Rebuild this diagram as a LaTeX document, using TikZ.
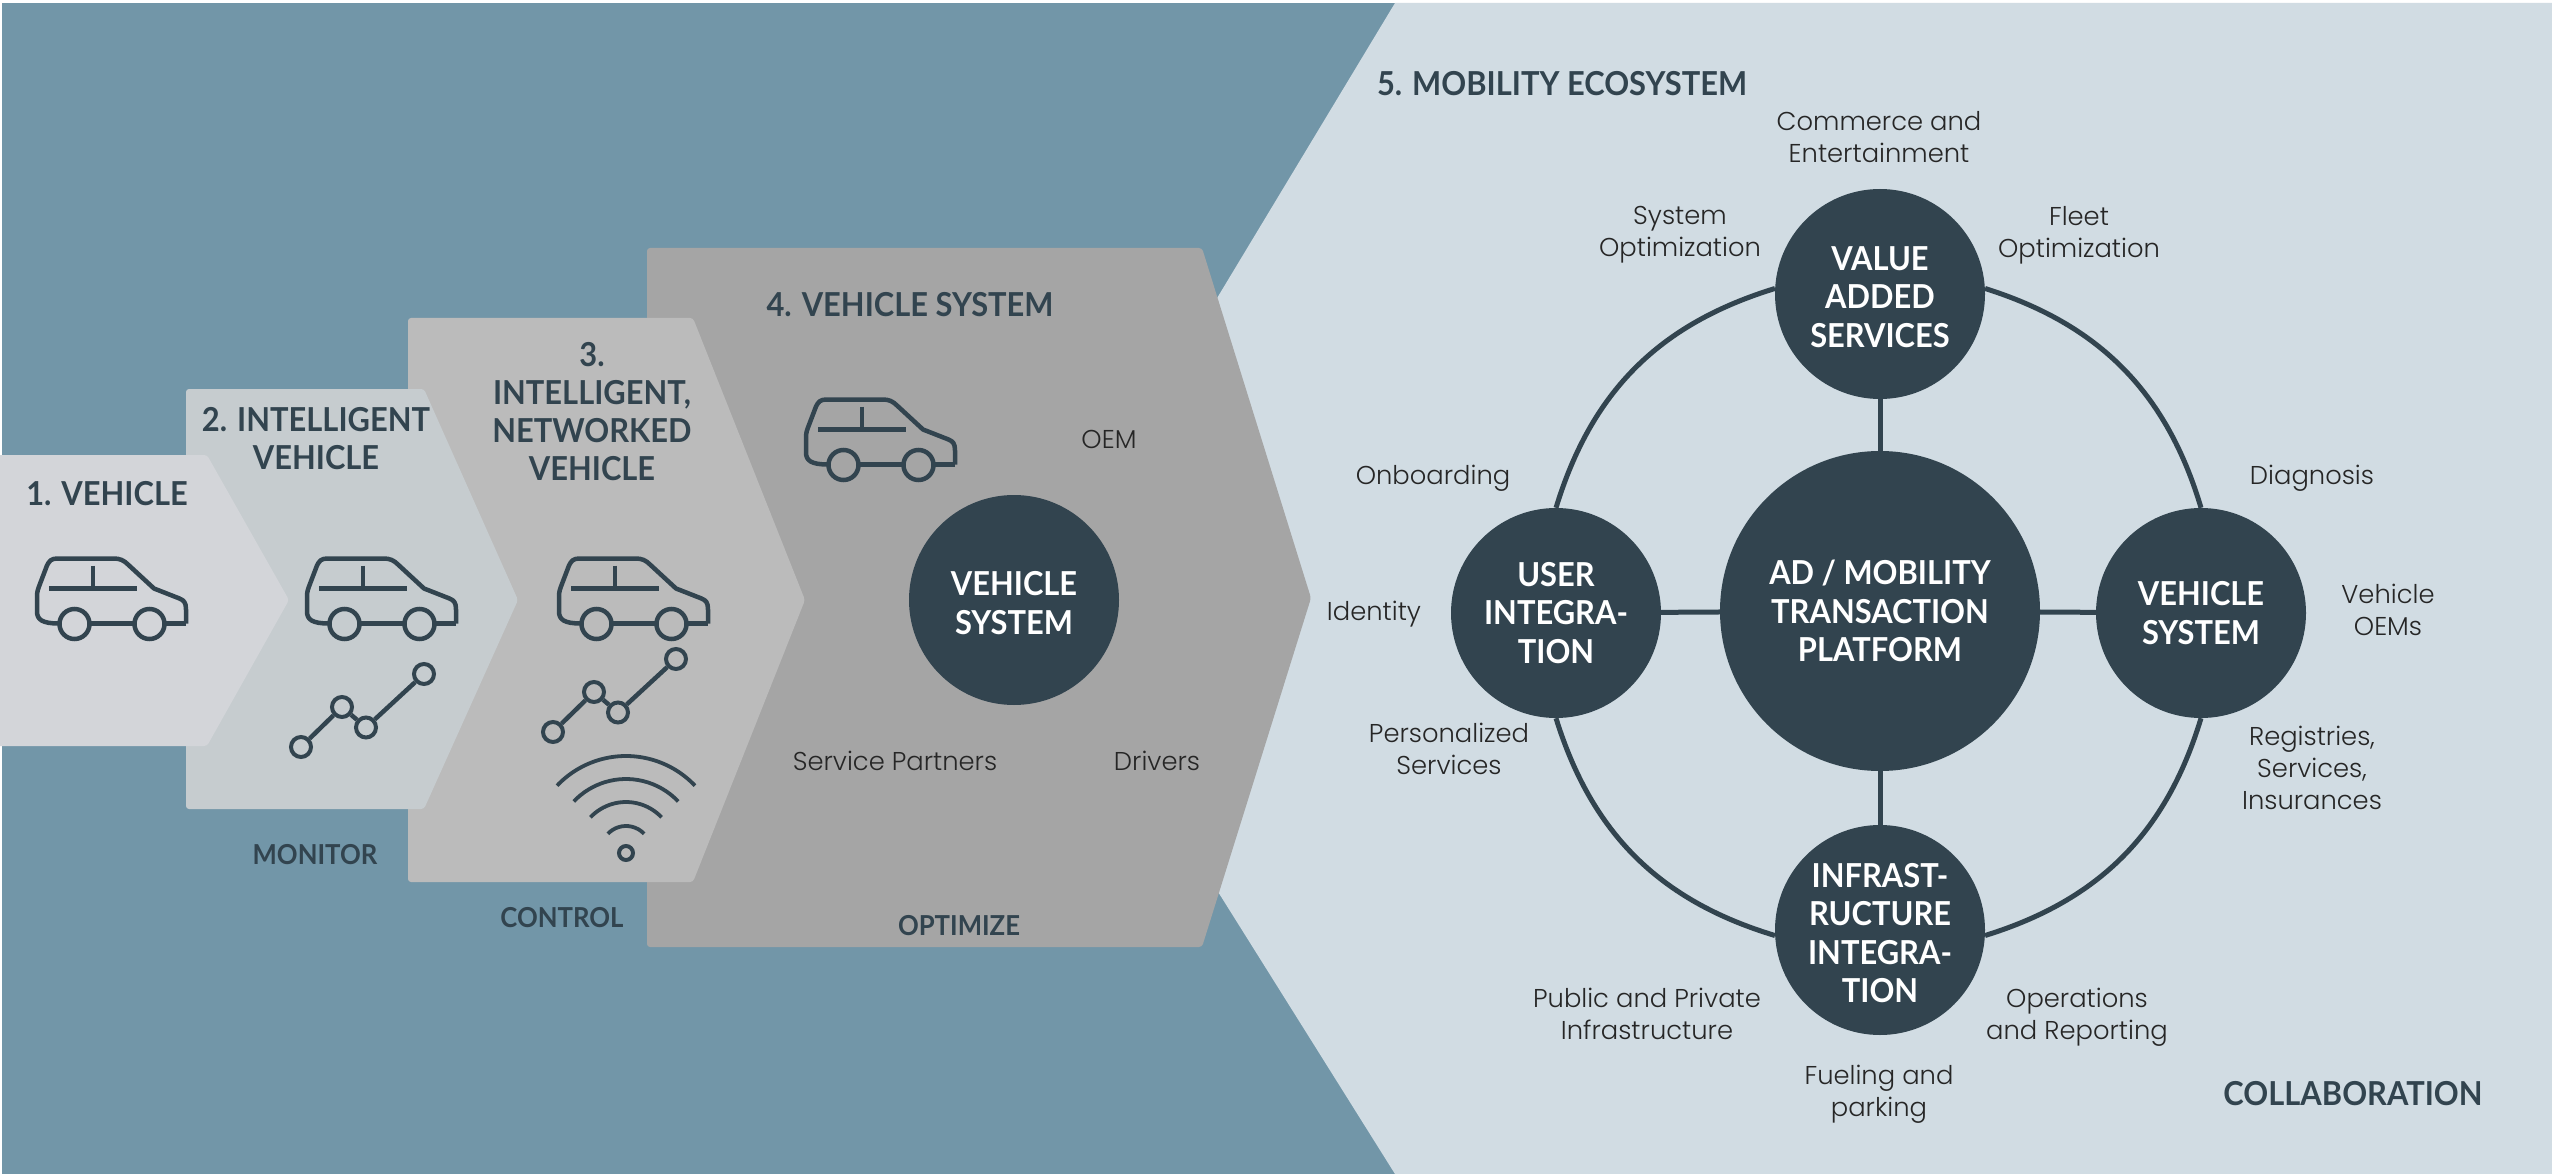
\documentclass[tikz,border=0pt]{standalone}
\usepackage{fontspec}
\setmainfont{Lato}[FakeStretch=0.935]
\newfontfamily\thinfont{Poppins}[UprightFont=* Light]
\definecolor{slate}{HTML}{32444F}
\definecolor{steel}{HTML}{7296A8}
\definecolor{mist}{HTML}{D1DCE3}
\definecolor{stepa}{HTML}{D3D5D9}
\definecolor{stepb}{HTML}{C6CCCF}
\definecolor{stepc}{HTML}{BBBBBB}
\definecolor{stepd}{HTML}{A5A5A5}
\newcommand{\lift}{\rule{0pt}{30pt}}
\begin{document}
\begin{tikzpicture}[x=1pt,y=-1pt,
chevron/.style={rounded corners=3pt},
icon/.style={draw=slate,line width=4.5pt},
title/.style={font=\fontsize{33}{38}\bfseries\selectfont,text=slate,align=center,inner sep=0pt},
tag/.style={font=\fontsize{27.5}{30}\bfseries\selectfont,text=slate,inner sep=0pt},
note/.style={font=\thinfont\fontsize{25.8}{32}\selectfont,text=black!85,align=center,inner sep=0pt},
disc/.style={shape=circle,fill=slate,text=white,minimum size=210pt,inner sep=0pt,align=center,font=\fontsize{33}{38.5}\bfseries\selectfont},
hub/.style={disc,minimum size=320pt},
link/.style={draw=slate,line width=5pt},
dot/.style={shape=circle,draw=slate,line width=4pt,minimum size=20pt,inner sep=0pt},
car/.pic={
\draw[icon,line join=round] (149,65) -- (149,51) .. controls (149,44) and (147,42) .. (142.5,40) -- (117,30) -- (91,6) .. controls (87,2) and (83,0) .. (77,0) -- (20,0) .. controls (14,0) and (12,3) .. (10,7) -- (2,28) .. controls (0,33) and (0,36) .. (0,40) -- (0,53) .. controls (0,61) and (5,65) .. (22,65);
\draw[icon] (37.5,65.5) circle (15);
\draw[icon] (112.5,65.5) circle (15);
\draw[icon] (52,65) -- (98,65) (127,65) -- (149,65);
\draw[icon] (12,30) -- (100,30) (56,7) -- (56,30);
},
chart/.pic={
\node[dot] (-a) at (0,0) {};
\node[dot] (-b) at (41,-40) {};
\node[dot] (-c) at (65,-19.5) {};
\node[dot] (-d) at (123,-73) {};
\path[icon] (-a) edge (-b) (-b) edge (-c) (-c) edge (-d);
}
]
\useasboundingbox (0,0) rectangle (2552,1174);
\fill[white] (0,0) rectangle (2552,1174);
\fill[steel] (2,3) rectangle (2552,1174);
% light panel on the right
\fill[mist] (1395,3) -- (1035,600) -- (1395,1174) -- (2552,1174) -- (2552,3) -- cycle;
% the four steps, last one first
\fill[stepd,chevron] (647,248) -- (1202,248) -- (1311,598) -- (1202,947) -- (647,947) -- cycle;
\fill[stepc,chevron] (408,318) -- (693,318) -- (805,600) -- (693,882) -- (408,882) -- cycle;
\fill[stepb,chevron] (186,389) -- (424,389) -- (518,600) -- (424,809) -- (186,809) -- cycle;
\fill[stepa,chevron] (-10,455) -- (207,455) -- (289,600) -- (207,746) -- (-10,746) -- cycle;
% titles of the steps
\node[title] (veh) at (107,494) {1. VEHICLE};
\node[title] (intel) at (316,439) {2. INTELLIGENT\\VEHICLE};
\node[title] (net) at (592,412) {3.\\INTELLIGENT,\\NETWORKED\\VEHICLE};
\node[title] (sys) at (910,305) {4. VEHICLE SYSTEM};
\node[tag] (monitor) at (315,855) {MONITOR};
\node[tag] (control) at (562,918) {CONTROL};
\node[tag] (optimize) at (959,926) {OPTIMIZE};
% icons
\pic (cara) at (37,558.5) {car};
\pic (carb) at (307,558.5) {car};
\pic (carc) at (559,558.5) {car};
\pic (card) at (806,399.5) {car};
\pic (chartb) at (301,747) {chart};
\pic (chartc) at (553,732) {chart};
\node[dot,minimum size=14pt] (wifi) at (626,853) {};
\foreach \r in {25,49,72,95}
\draw[icon,line width=3.8pt] (626,851) ++(223.5:\r) arc (223.5:316.5:\r);
% step four
\node[disc] (single) at (1014,600) {\lift VEHICLE\\SYSTEM};
\node[note] (oem) at (1109,439) {OEM};
\node[note] (partners) at (895,761) {Service Partners};
\node[note] (drivers) at (1157,761) {Drivers};
% ecosystem
\node[title] (eco) at (1562,84) {5. MOBILITY ECOSYSTEM};
\node[title] (collab) at (2353,1094) {COLLABORATION};
\node[hub] (platform) at (1880,611) {AD / MOBILITY\\TRANSACTION\\PLATFORM};
\node[disc] (value) at (1880,294) {\lift VALUE\\ADDED\\SERVICES};
\node[disc] (user) at (1556,613) {USER\\INTEGRA-\\TION};
\node[disc] (vehsys) at (2201,613) {VEHICLE\\SYSTEM};
\node[disc] (infra) at (1880,930) {\lift INFRAST-\\RUCTURE\\INTEGRA-\\TION};
\path[link] (platform) edge (value) (platform) edge (user) (platform) edge (vehsys) (platform) edge (infra);
\path[link] (value.177) edge[bend right=28] (user.north) (value.3) edge[bend left=28] (vehsys.north)
(infra.183) edge[bend left=28] (user.south) (infra.357) edge[bend right=28] (vehsys.south);
\node[note] (commerce) at (1879,137) {Commerce and\\Entertainment};
\node[note] (sysopt) at (1680,235) {System\\Optimization};
\node[note] (fleet) at (2079,235) {Fleet\\Optimization};
\node[note] (onboard) at (1433,478) {Onboarding};
\node[note] (diagnosis) at (2312,478) {Diagnosis};
\node[note] (identity) at (1374,614) {Identity};
\node[note] (oems) at (2388,610) {Vehicle\\OEMs};
\node[note] (personal) at (1449,749) {Personalized\\Services};
\node[note] (registries) at (2312,768) {Registries,\\Services,\\Insurances};
\node[note] (public) at (1647,1014) {Public and Private\\Infrastructure};
\node[note] (operations) at (2077,1017) {Operations\\and Reporting};
\node[note] (fueling) at (1879,1094) {Fueling and\\parking};
\end{tikzpicture}
\end{document}
